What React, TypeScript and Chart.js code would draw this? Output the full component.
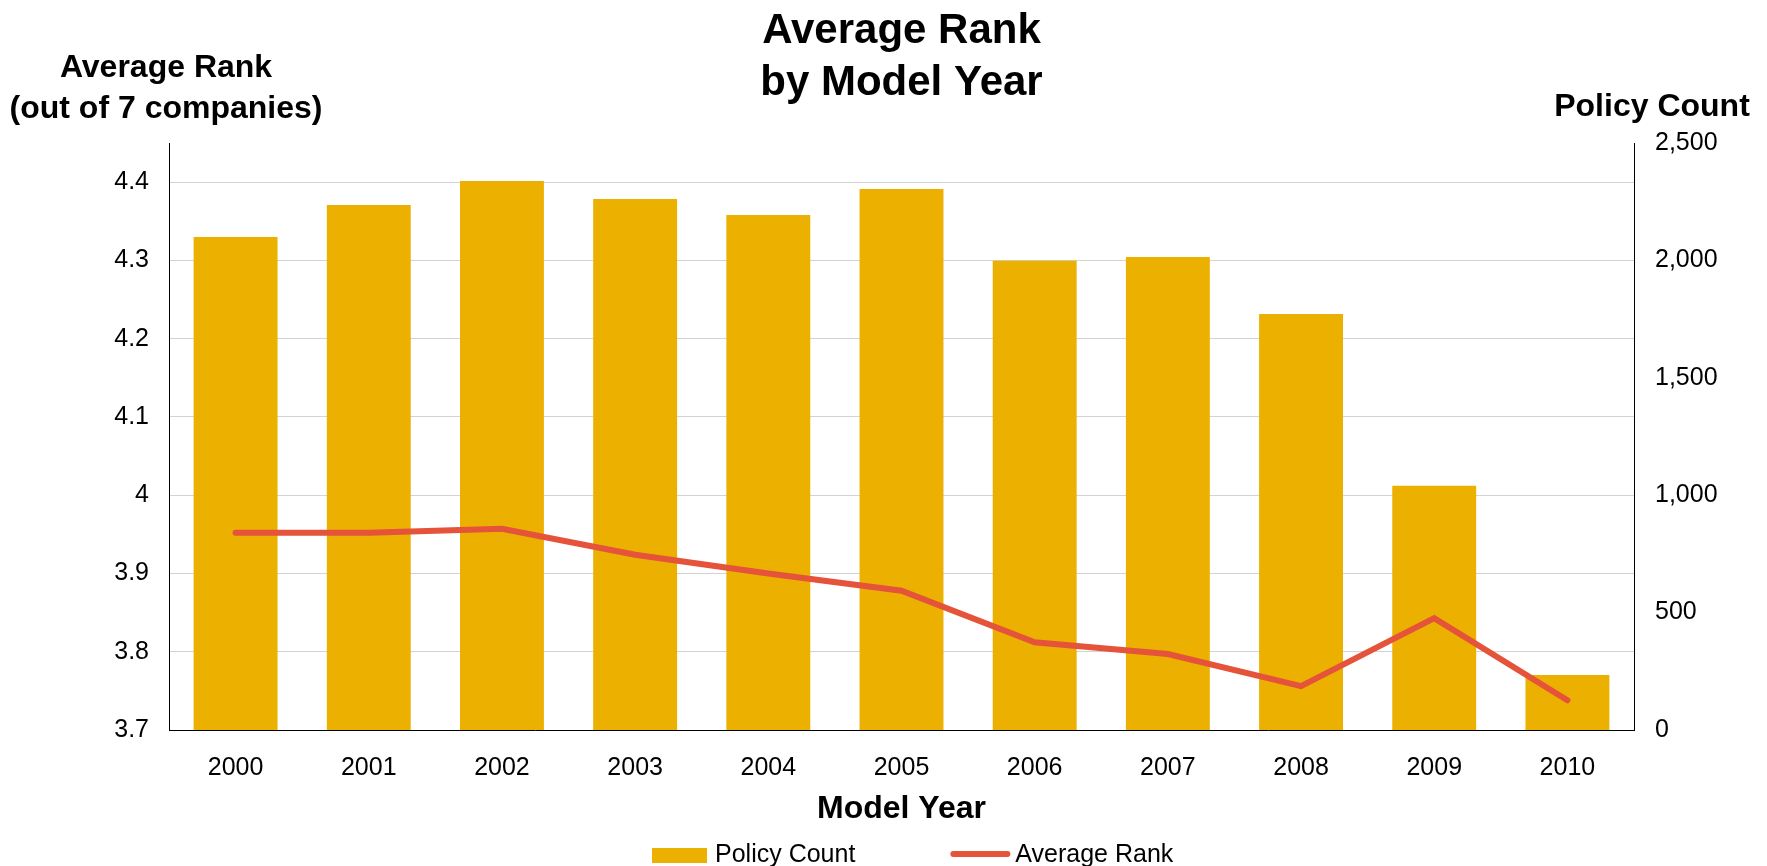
import React, { useEffect, useRef } from 'react';
import { Chart, registerables } from 'chart.js';

Chart.register(...registerables);

// ---- data ----
const modelYears = ['2000', '2001', '2002', '2003', '2004', '2005', '2006', '2007', '2008', '2009', '2010'];
const policyCount = [2100, 2236, 2338, 2261, 2193, 2304, 1999, 2014, 1772, 1040, 234];
const averageRank = [3.952, 3.952, 3.957, 3.924, 3.9, 3.878, 3.812, 3.797, 3.756, 3.843, 3.738];
const rankTicks = [3.7, 3.8, 3.9, 4.0, 4.1, 4.2, 4.3, 4.4];
const policyTicks = [0, 500, 1000, 1500, 2000, 2500];
const titleLines = ['Average Rank', 'by Model Year'];
const leftAxisTitle = ['Average Rank', '(out of 7 companies)'];
const rightAxisTitle = 'Policy Count';
const xAxisTitle = 'Model Year';
const seriesNames = ['Policy Count', 'Average Rank'];

// ---- styles ----
const FONT = "'Liberation Sans', Arial, Helvetica, sans-serif";
const BAR_COLOR = '#EBB000';
const LINE_COLOR = '#E4533A';
const GRID_COLOR = '#D3D3D3';

const extrasPlugin = {
  id: 'extrasPlugin',
  afterDraw(chart: any) {
    const ctx = chart.ctx;
    ctx.save();
    ctx.fillStyle = '#000';
    ctx.textBaseline = 'alphabetic';
    ctx.textAlign = 'center';
    ctx.font = `bold 32px ${FONT}`;
    leftAxisTitle.forEach((t, i) => ctx.fillText(t, 166, 77 + i * 41));
    ctx.fillText(rightAxisTitle, 1652, 116);

    // legend
    ctx.font = `25px ${FONT}`;
    ctx.textAlign = 'left';
    let x = 652;
    ctx.fillStyle = BAR_COLOR;
    ctx.fillRect(x, 848, 55, 15);
    x += 55 + 8;
    ctx.fillStyle = '#000';
    ctx.fillText(seriesNames[0], x, 862);
    x += ctx.measureText(seriesNames[0]).width + 95;
    ctx.strokeStyle = LINE_COLOR;
    ctx.lineWidth = 6;
    ctx.lineCap = 'round';
    ctx.beginPath();
    ctx.moveTo(x + 3, 854);
    ctx.lineTo(x + 57, 854);
    ctx.stroke();
    x += 60 + 5;
    ctx.fillStyle = '#000';
    ctx.fillText(seriesNames[1], x, 862);
    ctx.restore();
  },
};

export default function App() {
  const ref = useRef<HTMLCanvasElement | null>(null);

  useEffect(() => {
    if (!ref.current) return;
    const tickFont = { family: FONT, size: 25 };
    const chart = new Chart(ref.current, {
      type: 'bar',
      data: {
        labels: modelYears,
        datasets: [
          {
            type: 'bar',
            label: seriesNames[0],
            data: policyCount,
            backgroundColor: BAR_COLOR,
            borderWidth: 0,
            barPercentage: 0.63,
            categoryPercentage: 1,
            yAxisID: 'y1',
            order: 2,
          } as any,
          {
            type: 'line',
            label: seriesNames[1],
            data: averageRank,
            borderColor: LINE_COLOR,
            backgroundColor: LINE_COLOR,
            borderWidth: 6,
            pointRadius: 0,
            borderCapStyle: 'round',
            borderJoinStyle: 'miter',
            tension: 0,
            yAxisID: 'y',
            order: 1,
          } as any,
        ],
      },
      plugins: [extrasPlugin],
      options: {
        animation: false,
        responsive: false,
        maintainAspectRatio: false,
        layout: { padding: 0 },
        plugins: {
          legend: { display: false },
          tooltip: { enabled: false },
          title: {
            display: true,
            text: titleLines,
            color: '#000',
            font: { family: FONT, size: 42, weight: 'bold', lineHeight: 52 / 42 },
            padding: { top: 5, bottom: 34 },
            fullSize: false,
          },
        },
        scales: {
          x: {
            type: 'category',
            offset: true,
            grid: { display: false, drawTicks: false },
            border: { display: true, color: '#000', width: 1 },
            ticks: { color: '#000', font: tickFont, padding: 23, maxRotation: 0, autoSkip: false },
            title: {
              display: true,
              text: xAxisTitle,
              color: '#000',
              font: { family: FONT, size: 32, weight: 'bold' },
              padding: { top: 0, bottom: 38 },
            },
            afterFit: (s: any) => {
              s.height = 136;
            },
          },
          y: {
            type: 'linear',
            position: 'left',
            min: 3.7,
            max: 4.45,
            grid: { color: GRID_COLOR, lineWidth: 1, drawTicks: false },
            border: { display: true, color: '#000', width: 1 },
            ticks: {
              color: '#000',
              font: tickFont,
              padding: 20,
              callback: (v: any) => String(Math.round(Number(v) * 10) / 10),
            },
            afterBuildTicks: (s: any) => {
              s.ticks = rankTicks.map((v) => ({ value: v }));
            },
            afterFit: (s: any) => {
              s.width = 169;
            },
          },
          y1: {
            type: 'linear',
            position: 'right',
            min: 0,
            max: 2500,
            grid: { display: false, drawTicks: false },
            border: { display: true, color: '#000', width: 1 },
            ticks: {
              color: '#000',
              font: tickFont,
              padding: 21,
              callback: (v: any) => Number(v).toLocaleString('en-US'),
            },
            afterBuildTicks: (s: any) => {
              s.ticks = policyTicks.map((v) => ({ value: v }));
            },
            afterFit: (s: any) => {
              s.width = 133;
            },
          },
        },
      } as any,
    });
    return () => chart.destroy();
  }, []);

  return (
    <div style={{ position: 'fixed', left: 0, top: 0, width: 1767, height: 866, background: '#fff' }}>
      <canvas ref={ref} width={1767} height={866} style={{ display: 'block' }} />
    </div>
  );
}
